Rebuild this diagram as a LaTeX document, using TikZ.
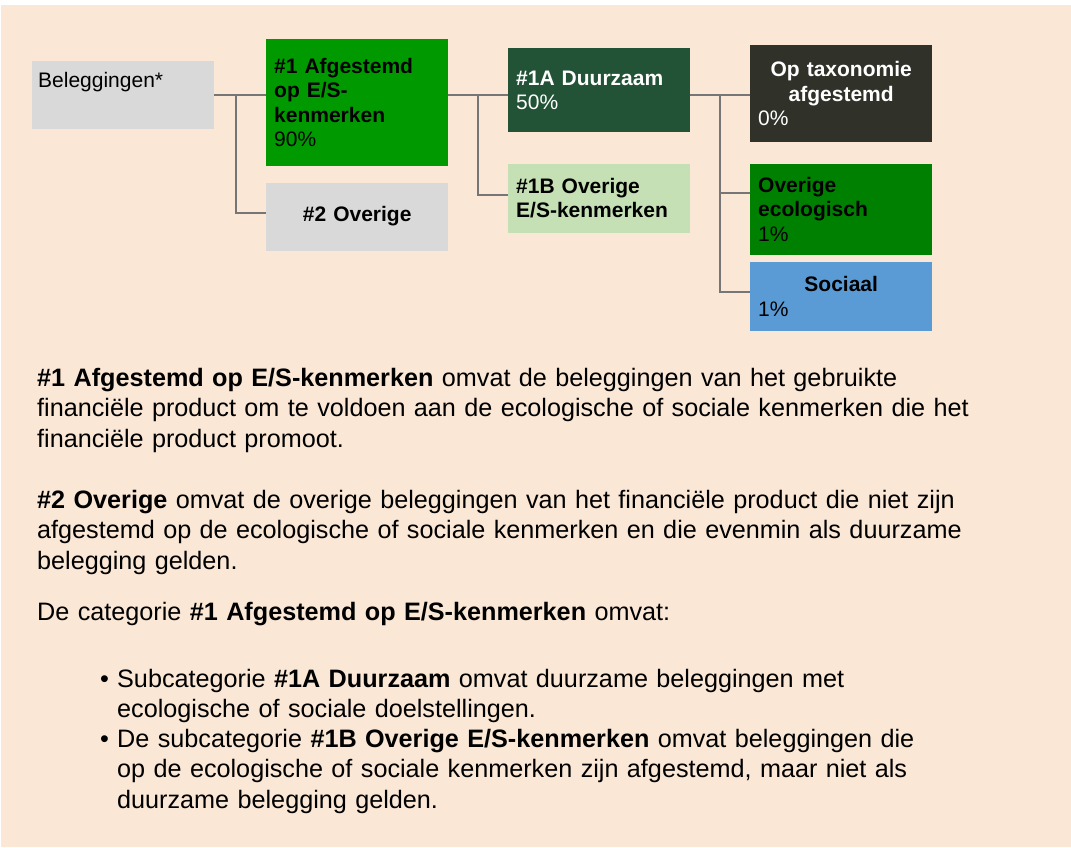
\documentclass[tikz,border=0pt]{standalone}
\usepackage{fontspec}
\setmainfont{Liberation Sans}
\usepackage{tikz}
\usetikzlibrary{positioning}
\usepackage{xcolor}
\definecolor{pagebeige}{HTML}{FAE7D5}
\definecolor{boxgray}{HTML}{D9D9D9}
\definecolor{esgreen}{HTML}{009A00}
\definecolor{sustgreen}{HTML}{235337}
\definecolor{lightgreen}{HTML}{C5E0B4}
\definecolor{taxdark}{HTML}{30322A}
\definecolor{ecogreen}{HTML}{008000}
\definecolor{socblue}{HTML}{5B9BD5}
\definecolor{linegray}{HTML}{767676}
\newcommand{\boxfont}{\fontsize{21}{24.5}\selectfont}
\newcommand{\bodyfont}{\fontsize{25.2}{30.5}\selectfont}
\newcommand{\itembullet}{\llap{\makebox[17pt][l]{\textbullet}}}
\tikzset{
  catbox/.style={
    rectangle, fill=#1, minimum width=182pt, text width=166pt,
    inner xsep=8pt, inner ysep=0pt, align=left, font=\boxfont
  },
  catbox/.default=boxgray,
  link/.style={draw=linegray, line width=2pt},
  bodytext/.style={anchor=base west, inner sep=0pt, text width=1000pt, align=left, font=\bodyfont},
}
\begin{document}
\begin{tikzpicture}[x=1pt, y=-1pt]
\useasboundingbox (0,0) rectangle (1071,847);
\fill[pagebeige] (1,5) rectangle (1071,847);

% Tree
\node[catbox, anchor=north west, minimum height=68pt, inner xsep=6pt, text width=170pt, text depth=30pt] (bel) at (32,61) {Beleggingen*};
\node[catbox=esgreen, anchor=north west, minimum height=127pt] (af) at (266,39) {\textbf{\#1 Afgestemd\\op E/S-\\kenmerken}\\90\%};
\node[catbox, minimum height=68pt, align=center, font=\boxfont\bfseries, below=16pt of af] (ovr) {\#2 Overige};

\node[catbox=sustgreen, text=white, anchor=north west, minimum height=84pt] (sust) at (508,48) {\textbf{\#1A Duurzaam}\\50\%};
\node[catbox=lightgreen, minimum height=69pt, font=\boxfont\bfseries, below=31pt of sust] (othes) {\#1B Overige\\E/S-kenmerken};

\node[catbox=taxdark, text=white, anchor=north west, minimum height=97pt] (tax) at (750,45) {{\centering\bfseries Op taxonomie\\afgestemd\par}0\%};
\node[catbox=ecogreen, minimum height=91pt, below=21pt of tax] (eco) {\textbf{Overige\\ecologisch}\\1\%};
\node[catbox=socblue, minimum height=69pt, below=7pt of eco] (soc) {{\centering\bfseries Sociaal\par}1\%};

% Connectors
\draw[link] (bel.east) -- (bel.east -| af.west);
\draw[link] (bel.east) -- ++(22,0) |- ([yshift=4pt]ovr.west);
\draw[link] (af.east |- bel.east) -- (sust.west |- bel.east);
\draw[link] (af.east |- bel.east) -- ++(30,0) |- ([yshift=3pt]othes.west);
\draw[link] (sust.east |- bel.east) -- (tax.west |- bel.east);
\draw[link] (sust.east |- bel.east) -- ++(30,0) |- ([yshift=16pt]eco.west);
\draw[link] (sust.east |- bel.east) -- ++(30,0) |- ([yshift=5pt]soc.west);

% Explanation
\node[bodytext] (para1) at (37,386) {\textbf{\#1 Afgestemd op E/S-kenmerken} omvat de beleggingen van het gebruikte\\financiële product om te voldoen aan de ecologische of sociale kenmerken die het\\financiële product promoot.};
\node[bodytext] (para2) at (37,508) {\textbf{\#2 Overige} omvat de overige beleggingen van het financiële product die niet zijn\\afgestemd op de ecologische of sociale kenmerken en die evenmin als duurzame\\belegging gelden.};
\node[bodytext] (cat) at (37,620) {De categorie \textbf{\#1 Afgestemd op E/S-kenmerken} omvat:};
\node[bodytext] (itemA) at (117,687) {\itembullet Subcategorie \textbf{\#1A Duurzaam} omvat duurzame beleggingen met\\ecologische of sociale doelstellingen.};
\node[bodytext] (itemB) at (117,747) {\itembullet De subcategorie \textbf{\#1B Overige E/S-kenmerken} omvat beleggingen die\\op de ecologische of sociale kenmerken zijn afgestemd, maar niet als\\duurzame belegging gelden.};

\end{tikzpicture}
\end{document}
